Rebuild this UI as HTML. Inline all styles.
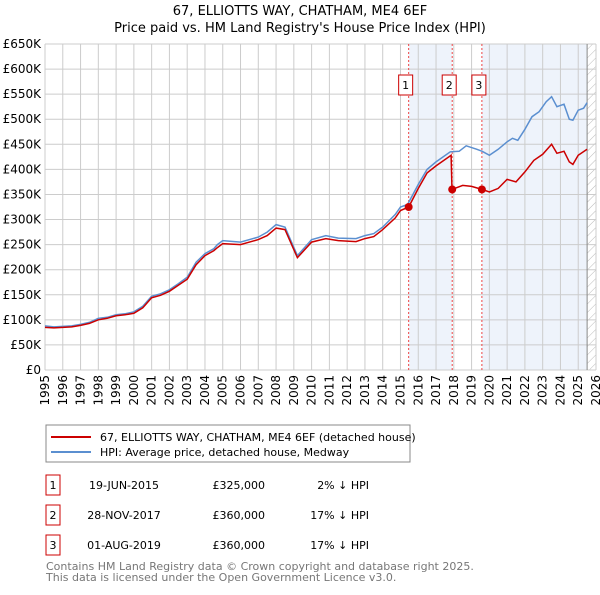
<!DOCTYPE html>
<html><head><meta charset="utf-8"><style>
body{margin:0;width:600px;height:590px;background:#fff;font-family:"Liberation Sans","DejaVu Sans",sans-serif;overflow:hidden}
svg text{font-family:"DejaVu Sans","Liberation Sans",sans-serif}
</style></head><body>
<svg id="c" width="600" height="590">
<text x="300" y="15" text-anchor="middle" font-size="13">67, ELLIOTTS WAY, CHATHAM, ME4 6EF</text>
<text x="300" y="32" text-anchor="middle" font-size="13">Price paid vs. HM Land Registry's House Price Index (HPI)</text>
<g id="plot"></g>
<rect x="46" y="425" width="364" height="37" fill="#fff" stroke="#888"/>
<line x1="51" y1="437" x2="91" y2="437" stroke="#cc0000" stroke-width="2"/>
<text x="100" y="441" font-size="11">67, ELLIOTTS WAY, CHATHAM, ME4 6EF (detached house)</text>
<line x1="51" y1="452" x2="91" y2="452" stroke="#5b8fd0" stroke-width="2"/>
<text x="100" y="456" font-size="11">HPI: Average price, detached house, Medway</text>
<g id="tbl"></g>
<text x="46" y="570" font-size="11" fill="#777">Contains HM Land Registry data © Crown copyright and database right 2025.</text>
<text x="46" y="581" font-size="11" fill="#777">This data is licensed under the Open Government Licence v3.0.</text>
</svg>
<script>
const hpiYears=[1995,1995.5,1996,1996.5,1997,1997.5,1998,1998.5,1999,1999.5,2000,2000.5,2001,2001.5,2002,2002.5,2003,2003.5,2004,2004.5,2004.7,2005,2006,2007,2007.5,2008,2008.5,2009.2,2010,2010.8,2011.5,2012.5,2013,2013.5,2014,2014.7,2015,2015.4,2016,2016.5,2017,2017.8,2018.3,2018.7,2019.3,2019.6,2020,2020.5,2021,2021.3,2021.6,2022,2022.4,2022.8,2023.2,2023.5,2023.8,2024.2,2024.5,2024.7,2025,2025.3,2025.5];
const hpiValues=[88,86,87,88,91,95,103,105,110,112,116,127,147,152,160,172,185,215,232,242,250,258,255,265,275,290,285,228,260,268,263,262,268,272,285,310,325,330,370,400,415,435,436,447,440,436,428,440,455,462,458,480,505,515,535,545,525,530,500,498,518,522,533];
const redYears=[1995,1995.5,1996,1996.5,1997,1997.5,1998,1998.5,1999,1999.5,2000,2000.5,2001,2001.5,2002,2002.5,2003,2003.5,2004,2004.5,2004.7,2005,2006,2007,2007.5,2008,2008.5,2009.2,2010,2010.8,2011.5,2012.5,2013,2013.5,2014,2014.7,2015,2015.46,2016,2016.5,2017,2017.85,2017.9,2018.5,2019,2019.58,2020,2020.5,2021,2021.5,2022,2022.5,2023,2023.5,2023.8,2024.2,2024.5,2024.7,2025,2025.5];
const redValues=[85,84,85,86,89,93,100,103,108,110,113,124,144,149,157,169,181,210,228,238,244,252,250,260,268,283,280,224,255,262,258,256,262,266,280,303,318,325,362,393,407,428,360,368,366,360,355,362,380,375,395,418,430,450,432,436,415,410,428,440];
const saleYears=[2015.46,2017.91,2019.58];
const saleValues=[325,360,360];
const saleLabels=["1","2","3"];
const saleDates=["19-JUN-2015","28-NOV-2017","01-AUG-2019"];
const salePrices=["£325,000","£360,000","£360,000"];
const saleDiffs=["2% ↓ HPI","17% ↓ HPI","17% ↓ HPI"];
const yTicks=[0,50,100,150,200,250,300,350,400,450,500,550,600,650];
const yTickLabels=["£0","£50K","£100K","£150K","£200K","£250K","£300K","£350K","£400K","£450K","£500K","£550K","£600K","£650K"];
const xTicks=[];for(let y=1995;y<=2026;y++)xTicks.push(y);

const L=45,R=596,T=44,B=370;
const X=v=>L+(v-1995)/(2026-1995)*(R-L);
const Y=v=>B-v/650*(B-T);
const NS="http://www.w3.org/2000/svg";
const g=document.getElementById('plot');
function mk(tag,attrs,parent){const e=document.createElementNS(NS,tag);for(const k in attrs)e.setAttribute(k,attrs[k]);(parent||g).appendChild(e);return e;}
mk('rect',{x:L,y:T,width:R-L,height:B-T,fill:'#fff'});
let s=mk('rect',{x:X(saleYears[0]),y:T,width:X(saleYears[1])-X(saleYears[0]),height:B-T,fill:'#eef3fb'});


s=mk('rect',{x:X(saleYears[2]),y:T,width:X(2025.5)-X(saleYears[2]),height:B-T,fill:'#eef3fb'});


const defs=mk('defs',{});
const pat=mk('pattern',{id:'h',width:6,height:6,patternUnits:'userSpaceOnUse',patternTransform:'rotate(45)'},defs);
mk('line',{x1:0,y1:0,x2:0,y2:6,stroke:'#bbb','stroke-width':1},pat);
s=mk('rect',{x:X(2025.5),y:T,width:R-X(2025.5),height:B-T,fill:'url(#h)'});


yTicks.forEach((v,i)=>{
 mk('line',{x1:L,x2:R,y1:Y(v),y2:Y(v),stroke:'#ccc'});
 const t=mk('text',{x:L-4,y:Y(v)+4,'text-anchor':'end','font-size':12});t.textContent=yTickLabels[i];
 
 
});
xTicks.forEach(v=>{
 mk('line',{x1:X(v),x2:X(v),y1:T,y2:B,stroke:'#ccc'});
 const tx=X(v)+4, ty=B+5;
 const t=mk('text',{x:tx,y:ty,'text-anchor':'end','font-size':12,transform:'rotate(-90 '+tx+' '+ty+')'});t.textContent=v;
 
 
});
mk('line',{x1:X(2025.5),x2:X(2025.5),y1:T,y2:B,stroke:'#888'});
saleYears.forEach((v,i)=>{
 mk('line',{x1:X(v),x2:X(v),y1:T,y2:B,stroke:'#e44','stroke-dasharray':'2,2'});
 const r=mk('rect',{x:X(v)-10,y:75,width:14,height:20,fill:'#fff',stroke:'#cc0000'});
 
 
 const t=mk('text',{x:X(v)-3,y:89,'text-anchor':'middle','font-size':11});t.textContent=saleLabels[i];
});
function path(xs,ys){return xs.map((x,i)=>(i?'L':'M')+X(x).toFixed(1)+','+Y(ys[i]).toFixed(1)).join('');}
let p=mk('path',{d:path(hpiYears,hpiValues),fill:'none',stroke:'#5b8fd0','stroke-width':1.5});


p=mk('path',{d:path(redYears,redValues),fill:'none',stroke:'#cc0000','stroke-width':1.5});


saleYears.forEach((v,i)=>{
 const c=mk('circle',{cx:X(v),cy:Y(saleValues[i]),r:4,fill:'#cc0000'});
 
 
});
const tb=document.getElementById('tbl');
saleLabels.forEach((l,i)=>{
 const y=475+i*30;
 mk('rect',{x:46,y:y,width:14,height:20,fill:'#fff',stroke:'#cc0000'},tb);
 let t=mk('text',{x:53,y:y+14,'text-anchor':'middle','font-size':11},tb);t.textContent=l;
 t=mk('text',{x:124,y:y+14,'text-anchor':'middle','font-size':11},tb);t.textContent=saleDates[i];
 
 
 t=mk('text',{x:265,y:y+14,'text-anchor':'end','font-size':11},tb);t.textContent=salePrices[i];
 
 
 t=mk('text',{x:369,y:y+14,'text-anchor':'end','font-size':11},tb);t.textContent=saleDiffs[i];
 
 
});
</script>
</body></html>
